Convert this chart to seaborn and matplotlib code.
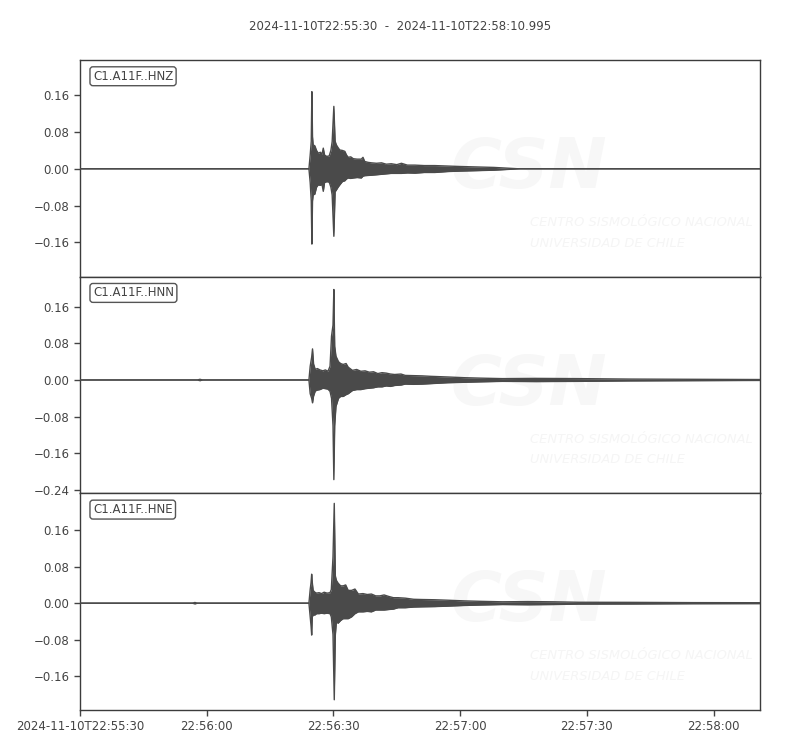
import numpy as np
import pandas as pd
import matplotlib
matplotlib.use('Agg')
import matplotlib.pyplot as plt
import seaborn as sns

# header / axis text
title = '2024-11-10T22:55:30  -  2024-11-10T22:58:10.995'
duration = 160.995
x_ticks = [0, 30, 60, 90, 120, 150]
x_labels = ['2024-11-10T22:55:30', '22:56:00', '22:56:30', '22:57:00', '22:57:30', '22:58:00']
channels = ['C1.A11F..HNZ', 'C1.A11F..HNN', 'C1.A11F..HNE']

# envelope of each trace: seconds after 22:55:30, upper / lower amplitude
t_hnz = [0, 54.2, 54.5, 54.75, 54.9, 55.05, 55.2, 55.6, 56.0, 56.4, 56.9, 57.3, 57.6, 57.9, 58.4,
         59.0, 59.4, 59.7, 60.1, 60.4, 60.7, 61.1, 61.5, 62.1, 62.7, 63.1, 63.5, 64.1, 64.7, 65.6,
         66.6, 67.0, 67.4, 68.2, 69.0, 70.2, 71.4, 72.5, 73.7, 75.0, 76.1, 77.5, 79.3, 81.5, 84.0,
         87.0, 90.0, 94.0, 98.0, 102.0, 104.0, 161.0]
up_hnz = [0, 0, 0.03, 0.06, 0.168, 0.07, 0.052, 0.050, 0.040, 0.034, 0.036, 0.032, 0.045, 0.030, 0.027,
          0.028, 0.040, 0.059, 0.136, 0.060, 0.052, 0.046, 0.041, 0.040, 0.038, 0.030, 0.025, 0.026, 0.022, 0.021,
          0.021, 0.025, 0.016, 0.014, 0.013, 0.012, 0.013, 0.010, 0.011, 0.009, 0.012, 0.008, 0.008, 0.007, 0.007,
          0.006, 0.005, 0.004, 0.003, 0.001, 0, 0]
lo_hnz = [0, 0, -0.03, -0.07, -0.164, -0.07, -0.057, -0.055, -0.040, -0.035, -0.036, -0.034, -0.049, -0.030, -0.028,
          -0.029, -0.040, -0.057, -0.147, -0.05, -0.046, -0.040, -0.035, -0.028, -0.026, -0.022, -0.020, -0.021, -0.020, -0.019,
          -0.020, -0.016, -0.015, -0.0145, -0.014, -0.013, -0.012, -0.011, -0.010, -0.010, -0.010, -0.009, -0.0095, -0.008, -0.008,
          -0.006, -0.005, -0.004, -0.003, -0.001, 0, 0]

t_hnn = [0, 27.8, 28.4, 29.0, 54.2, 54.5, 54.85, 55.05, 55.3, 55.7, 56.2, 56.8, 57.5, 58.1, 58.7,
         59.2, 59.55, 59.9, 60.1, 60.3, 60.6, 61.2, 61.7, 62.3, 63.0, 63.5, 64.5, 65.5, 66.5, 67.5,
         68.5, 69.5, 70.5, 71.5, 72.5, 73.5, 74.5, 76.0, 77.0, 79.0, 81.0, 83.0, 87.0, 91.0, 95.0,
         100.0, 108.0, 118.0, 130.0, 145.0, 161.0]
up_hnn = [0, 0, 0.0015, 0, 0, 0.03, 0.05, 0.068, 0.035, 0.023, 0.025, 0.022, 0.020, 0.022, 0.019,
          0.03, 0.096, 0.12, 0.198, 0.074, 0.052, 0.040, 0.036, 0.034, 0.036, 0.028, 0.021, 0.023, 0.019, 0.020,
          0.017, 0.018, 0.014, 0.016, 0.015, 0.013, 0.012, 0.013, 0.010, 0.0095, 0.009, 0.008, 0.0066, 0.005, 0.004,
          0.003, 0.0035, 0.003, 0.002, 0.0015, 0.001]
lo_hnn = [0, 0, -0.0015, 0, 0, -0.03, -0.040, -0.050, -0.035, -0.024, -0.022, -0.021, -0.018, -0.019, -0.020,
          -0.025, -0.04, -0.10, -0.218, -0.10, -0.058, -0.040, -0.036, -0.036, -0.032, -0.030, -0.023, -0.021, -0.021, -0.019,
          -0.018, -0.017, -0.015, -0.015, -0.013, -0.014, -0.012, -0.011, -0.009, -0.0095, -0.009, -0.008, -0.006, -0.005, -0.004,
          -0.003, -0.0035, -0.003, -0.002, -0.0015, -0.001]

t_hne = [0, 26.6, 27.2, 27.8, 54.2, 54.5, 54.7, 54.85, 55.0, 55.2, 55.6, 56.0, 56.6, 57.2, 57.8,
         58.5, 59.2, 59.5, 59.9, 60.2, 60.45, 60.7, 61.1, 61.7, 62.3, 62.9, 63.5, 64.3, 65.1, 65.9,
         67.0, 68.0, 69.0, 70.0, 71.0, 72.0, 73.0, 74.2, 75.3, 77.0, 79.0, 81.0, 84.0, 87.0, 91.0,
         95.0, 100.0, 106.0, 112.0, 118.0, 130.0, 145.0, 161.0]
up_hne = [0, 0, 0.0015, 0, 0, 0.03, 0.045, 0.0636, 0.045, 0.028, 0.024, 0.022, 0.023, 0.021, 0.024,
          0.022, 0.023, 0.03, 0.102, 0.219, 0.06, 0.050, 0.044, 0.038, 0.038, 0.040, 0.028, 0.028, 0.031, 0.020,
          0.021, 0.019, 0.020, 0.016, 0.016, 0.018, 0.015, 0.012, 0.012, 0.011, 0.0085, 0.008, 0.0075, 0.0065, 0.005,
          0.004, 0.003, 0.0035, 0.003, 0.002, 0.0018, 0.0012, 0.001]
lo_hne = [0, 0, -0.0015, 0, 0, -0.03, -0.05, -0.070, -0.03, -0.026, -0.026, -0.023, -0.023, -0.022, -0.023,
          -0.022, -0.023, -0.03, -0.069, -0.212, -0.07, -0.041, -0.044, -0.038, -0.034, -0.034, -0.034, -0.030, -0.023, -0.019,
          -0.019, -0.018, -0.019, -0.015, -0.015, -0.015, -0.014, -0.013, -0.010, -0.010, -0.0085, -0.008, -0.0075, -0.0065, -0.005,
          -0.004, -0.003, -0.0035, -0.003, -0.002, -0.0018, -0.0012, -0.001]

y_limits = [(-0.235, 0.237), (-0.248, 0.226), (-0.2345, 0.241)]
y_ticks = [[-0.16, -0.08, 0.0, 0.08, 0.16],
           [-0.24, -0.16, -0.08, 0.0, 0.08, 0.16],
           [-0.16, -0.08, 0.0, 0.08, 0.16]]

traces = [(t_hnz, up_hnz, lo_hnz), (t_hnn, up_hnn, lo_hnn), (t_hne, up_hne, lo_hne)]

sns.set_style('ticks')
plt.rcParams['font.family'] = ['DejaVu Sans']
plt.rcParams['font.size'] = 8
txt_col = '#444444'
line_col = '#4a4a4a'

fig, axes = plt.subplots(3, 1, figsize=(8, 7.5), dpi=100, sharex=True)
fig.subplots_adjust(left=0.1, right=0.95, top=0.92, bottom=0.0533, hspace=0)

for i, ax in enumerate(axes):
    t, up, lo = traces[i]
    df = pd.DataFrame({
        't': t + t,
        'amp': up + lo,
        'edge': ['upper'] * len(t) + ['lower'] * len(t),
    })
    # faint watermark
    ax.text(0.66, 0.50, 'CSN', transform=ax.transAxes, fontsize=50, fontweight='bold',
            fontstyle='italic', color='#f7f7f7', ha='center', va='center', zorder=0)
    ax.text(0.662, 0.25, 'CENTRO SISMOLÓGICO NACIONAL', transform=ax.transAxes, fontsize=9.4,
            fontstyle='italic', color='#f5f5f5', ha='left', va='center', zorder=0)
    ax.text(0.662, 0.155, 'UNIVERSIDAD DE CHILE', transform=ax.transAxes, fontsize=9.4,
            fontstyle='italic', color='#f5f5f5', ha='left', va='center', zorder=0)

    ax.fill_between(t, lo, up, color=line_col, lw=0, zorder=2)
    sns.lineplot(data=df, x='t', y='amp', units='edge', estimator=None, color=line_col,
                 lw=1.0, ax=ax, zorder=3, legend=False)

    ax.set_xlim(0, duration)
    ax.set_ylim(*y_limits[i])
    ax.set_yticks(y_ticks[i])
    ax.set_yticklabels([f'{v:.2f}'.replace('-', '\u2212') for v in y_ticks[i]])
    ax.set_xlabel('')
    ax.set_ylabel('')
    for s in ax.spines.values():
        s.set_color('#3c3c3c')
        s.set_linewidth(1.0)
    ax.tick_params(axis='both', colors=txt_col, labelcolor=txt_col, labelsize=8.5,
                   length=4, width=1.0, direction='out')
    ax.text(0.019, 0.955, channels[i], transform=ax.transAxes, fontsize=8.5, color=txt_col,
            ha='left', va='top', zorder=5,
            bbox=dict(boxstyle='round,pad=0.25', fc='white', ec='#555555', lw=1.0))
    if i < 2:
        ax.tick_params(axis='x', bottom=False, labelbottom=False)

axes[-1].set_xticks(x_ticks)
axes[-1].set_xticklabels(x_labels)

fig.suptitle(title, y=0.973, fontsize=8.5, color=txt_col)

fig.savefig('out.png', dpi=100, facecolor='white')
